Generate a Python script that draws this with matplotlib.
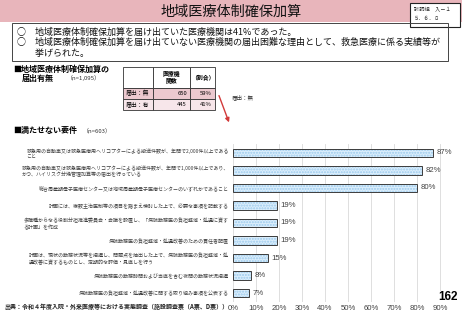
import matplotlib
matplotlib.use('Agg')
import matplotlib.pyplot as plt
from matplotlib.patches import Rectangle, FancyArrowPatch

plt.rcParams['font.family'] = ['Noto Sans CJK JP', 'DejaVu Sans']

# --- data ---
categories = [
    '救急用の自動車又は救急医療用ヘリコプターによる搬送件数が、年間で2,000件以上である\nこと',
    '救急用の自動車又は救急医療用ヘリコプターによる搬送件数が、年間で1,000件以上であり、\nかつ、ハイリスク分娩管理加算等の届出を行っている',
    '総合周産期母子医療センター又は地域周産期母子医療センターのいずれかであること',
    '計画には、複数主治医制等の項目を踏まえ検討した上で、必要な事項を記載する',
    '多職種からなる役割分担推進委員会・会議を設置し、「病院勤務医の負担軽減・処遇に資す\nる計画」を作成',
    '病院勤務医の負担軽減・処遇改善のための責任者配置',
    '計画は、現状の勤務状況等を把握し、問題点を抽出した上で、病院勤務医の負担軽減・処\n遇改善に資するものとし、定期的な評価・見直しを行う',
    '病院勤務医の勤務時間および当直を含む夜間の勤務状況把握',
    '病院勤務医の負担軽減・処遇改善に関する取り組み事項を公表する',
]
values = [87, 82, 80, 19, 19, 19, 15, 8, 7]
xticks = [0, 10, 20, 30, 40, 50, 60, 70, 80, 90]

table_header = ['', '医療機\n関数', '（割合）']
table_rows = ['届出：無', '届出：有']
table_counts = [650, 445]
table_shares = ['59%', '41%']
table_fills = ['#ecc9cf', '#f7e6ea']

bullets = [
    '○　地域医療体制確保加算を届け出ていた医療機関は41%であった。',
    '○　地域医療体制確保加算を届け出ていない医療機関の届出困難な理由として、救急医療に係る実績等が',
    '　　挙げられた。',
]

fig = plt.figure(figsize=(4.62, 3.2), dpi=100)

# background axes in pixel coords for the slide decorations
bg = fig.add_axes([0, 0, 1, 1])
bg.set_xlim(0, 462)
bg.set_ylim(320, 0)
bg.axis('off')

# title band
bg.add_patch(Rectangle((0, 0), 462, 22, color='#e8b5bb', lw=0))
bg.text(231, 12, '地域医療体制確保加算', fontsize=10.2, ha='center', va='center', color='#111111')

# reference box top right
bg.add_patch(Rectangle((410, 3), 50, 24, fc='white', ec='#222222', lw=0.8))
bg.text(414, 10, '診調組　入－１', fontsize=3.8, va='center', color='#333333')
bg.text(414, 18.5, '５．６．８', fontsize=3.8, va='center', color='#333333')

# bullet box
bg.add_patch(Rectangle((12, 23), 436, 38, fc='none', ec='#444444', lw=0.7))
for i, line in enumerate(bullets):
    bg.text(17, 32 + i * 10.7, line, fontsize=6.5, va='center', color='#111111')

# section headings
bg.text(13, 69, '■地域医療体制確保加算の', fontsize=5.8, fontweight='bold', va='center')
bg.text(22, 78, '届出有無', fontsize=5.8, fontweight='bold', va='center')
bg.text(67, 78, '（n=1,095）', fontsize=4.3, va='center', color='#333333')
bg.text(13, 131, '■満たせない要件', fontsize=5.8, fontweight='bold', va='center')
bg.text(83, 131, '（n=603）', fontsize=4.3, va='center', color='#333333')

# small table
col_x = [123, 153, 190, 215]
row_y = [67, 88, 99, 110]
for c in range(3):
    bg.add_patch(Rectangle((col_x[c], row_y[0]), col_x[c + 1] - col_x[c], row_y[1] - row_y[0],
                           fc='white', ec='#333333', lw=0.6))
    bg.text((col_x[c] + col_x[c + 1]) / 2, (row_y[0] + row_y[1]) / 2, table_header[c],
            fontsize=4.2, ha='center', va='center', fontweight='bold', linespacing=1.1)
for r in range(2):
    y0, y1 = row_y[r + 1], row_y[r + 2]
    for c in range(3):
        bg.add_patch(Rectangle((col_x[c], y0), col_x[c + 1] - col_x[c], y1 - y0,
                               fc=table_fills[r], ec='#333333', lw=0.6))
    ym = (y0 + y1) / 2
    bg.text(col_x[0] + 3, ym, table_rows[r], fontsize=4.2, va='center')
    bg.text(col_x[2] - 3, ym, str(table_counts[r]), fontsize=4.2, va='center', ha='right')
    bg.text(col_x[3] - 3, ym, table_shares[r], fontsize=4.2, va='center', ha='right')

# red arrow and label
bg.add_patch(FancyArrowPatch((218, 93), (230, 125), arrowstyle='-|>', mutation_scale=6,
                             color='#d23a3a', lw=1.0))
bg.text(232, 97, '届出：無', fontsize=4.0, va='center', color='#333333')

# footer
bg.text(4, 307, '出典：令和４年度入院・外来医療等における実態調査（施設調査票（A票、D票））',
        fontsize=4.3, fontweight='bold', va='center', color='#222222')

# --- bar chart ---
ax = fig.add_axes([233 / 462, 18 / 320, 230 / 462, 158 / 320])
ypos = list(range(len(values)))
ax.barh(ypos, values, height=0.48, color='#dbeefc', edgecolor='#9ccaec', linewidth=0,
        hatch='......', zorder=2)
ax.barh(ypos, values, height=0.48, fill=False, edgecolor='#3c3c3c', linewidth=0.7, zorder=3)
for y, v in zip(ypos, values):
    ax.text(v + 1.6, y, f'{v}%', va='center', fontsize=5.6, color='#404040',
            family=['Liberation Sans', 'DejaVu Sans'])

ax.set_xlim(0, 100)
ax.set_ylim(len(values) - 0.5, -0.5)
ax.set_xticks(xticks)
ax.set_xticklabels([f'{t}%' for t in xticks], fontsize=5.6, color='#404040',
                   family=['Liberation Sans', 'DejaVu Sans'])
ax.set_yticks(ypos)
ax.set_yticklabels(categories, fontsize=3.6, color='#404040', multialignment='left')
ax.tick_params(axis='both', length=0)
ax.tick_params(axis='y', pad=3)
ax.tick_params(axis='x', pad=2)
ax.xaxis.grid(True, color='#d9d9d9', lw=0.6)
ax.set_axisbelow(True)
for s in ax.spines.values():
    s.set_visible(False)

# page number
fig.text(448 / 462, 1 - 297 / 320, '162', fontsize=8.5, fontweight='bold', ha='center', va='center',
         family=['Liberation Sans', 'DejaVu Sans'],
         bbox=dict(fc='white', ec='none', pad=0.3))

fig.savefig('out.png', dpi=100)
